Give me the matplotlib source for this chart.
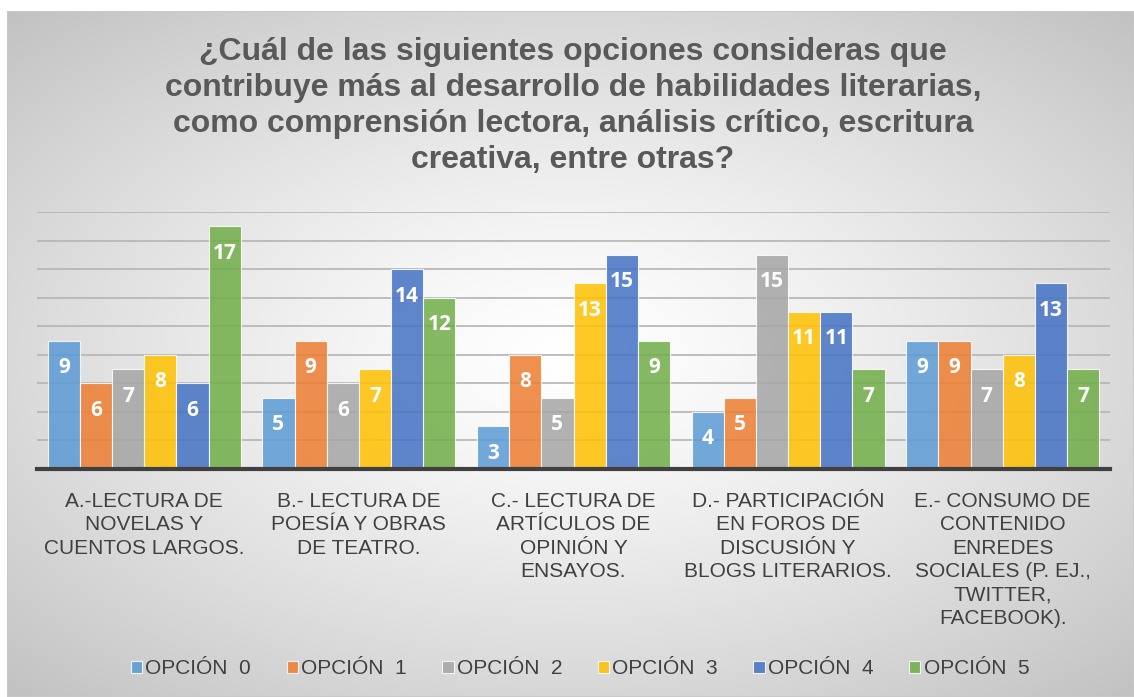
import numpy as np
import matplotlib
matplotlib.use("Agg")
import matplotlib.pyplot as plt
from matplotlib.patches import Rectangle

categories = [
    "A.-LECTURA DE\nNOVELAS Y\nCUENTOS LARGOS.",
    "B.- LECTURA DE\nPOESÍA Y OBRAS\nDE TEATRO.",
    "C.- LECTURA DE\nARTÍCULOS DE\nOPINIÓN Y\nENSAYOS.",
    "D.- PARTICIPACIÓN\nEN FOROS DE\nDISCUSIÓN Y\nBLOGS LITERARIOS.",
    "E.- CONSUMO DE\nCONTENIDO\nENREDES\nSOCIALES (P. EJ.,\nTWITTER,\nFACEBOOK).",
]
series_names = ["OPCIÓN  0", "OPCIÓN  1", "OPCIÓN  2", "OPCIÓN  3", "OPCIÓN  4", "OPCIÓN  5"]
opcion0 = [9, 5, 3, 4, 9]
opcion1 = [6, 9, 8, 5, 9]
opcion2 = [7, 6, 5, 15, 7]
opcion3 = [8, 7, 13, 11, 8]
opcion4 = [6, 14, 15, 11, 13]
opcion5 = [17, 12, 9, 7, 7]
series = [opcion0, opcion1, opcion2, opcion3, opcion4, opcion5]
colors = ["#5B9BD5", "#ED7D31", "#A5A5A5", "#FFC000", "#4472C4", "#70AD47"]

title = ("¿Cuál de las siguientes opciones consideras que\n"
         "contribuye más al desarrollo de habilidades literarias,\n"
         "como comprensión lectora, análisis crítico, escritura\n"
         "creativa, entre otras?")

W, H = 1134, 697
fig = plt.figure(figsize=(W / 100, H / 100), dpi=100)
fig.patch.set_facecolor("white")

# background radial gradient panel
bg = fig.add_axes([7 / W, 0, 1 - 7 / W, 1 - 11 / H])
bg.set_axis_off()
nx, ny = 400, 250
xx, yy = np.meshgrid(np.linspace(-1, 1, nx), np.linspace(-1, 1, ny))
r = np.sqrt((xx / 1.05) ** 2 + yy ** 2)
r = np.clip(r, 0, 1.42) / 1.42
val = 1.0 - 0.25 * r ** 1.3
img = np.dstack([val, val, val])
bg.imshow(img, extent=[0, 1, 0, 1], aspect="auto", origin="lower", interpolation="bilinear")
bg.add_patch(Rectangle((0, 0), 1, 1, transform=bg.transAxes, fill=False,
                       edgecolor="#C8C8C8", lw=1.2))

ax = fig.add_axes([37 / W, 1 - 469 / H, (1110 - 37) / W, (469 - 212) / H])
ax.set_facecolor("none")
ax.set_xlim(-0.5, len(categories) - 0.5)
ax.set_ylim(0, 18)

n = len(series)
group_w = 0.9
bw = group_w / n
x = np.arange(len(categories))
for i, (vals, c, name) in enumerate(zip(series, colors, series_names)):
    pos = x - group_w / 2 + bw * (i + 0.5)
    bars = ax.bar(pos, vals, width=bw, color=c, alpha=0.85, edgecolor="white",
                  linewidth=0.8, label=name, zorder=3)
    for b, v in zip(bars, vals):
        ax.annotate(str(v), (b.get_x() + b.get_width() / 2, v), xytext=(0, -27),
                    textcoords="offset pixels", ha="center", va="center",
                    color="white", fontsize=15, fontweight="bold",
                    family="Open Sans", zorder=4)

ax.set_yticks(np.arange(2, 19, 2))
ax.yaxis.grid(True, color="#B4B4B4", lw=1.2, zorder=1)
ax.tick_params(axis="y", left=False, labelleft=False)
ax.tick_params(axis="x", bottom=False, pad=13)
for s in ["top", "right", "left"]:
    ax.spines[s].set_visible(False)
ax.spines["bottom"].set_color("#404040")
ax.spines["bottom"].set_linewidth(3)
ax.spines["bottom"].set_zorder(5)
ax.set_xticks(x)
ax.set_xticklabels(categories, fontsize=15, color="#404040", family="Liberation Sans",
                   linespacing=1.3, va="top")

fig.text(573 / W, 1 - 106 / H, title, ha="center", va="center", fontsize=23,
         fontweight="bold", color="#595959", family="Liberation Sans", linespacing=1.25)

leg = fig.legend(loc="center", bbox_to_anchor=(580 / W, 1 - 669 / H), ncol=6,
                 frameon=False, handlelength=0.55, handleheight=0.55,
                 handletextpad=0.15, columnspacing=1.7,
                 prop={"family": "Liberation Sans", "size": 15})
for t in leg.get_texts():
    t.set_color("#404040")

fig.savefig("out.png", dpi=100)
